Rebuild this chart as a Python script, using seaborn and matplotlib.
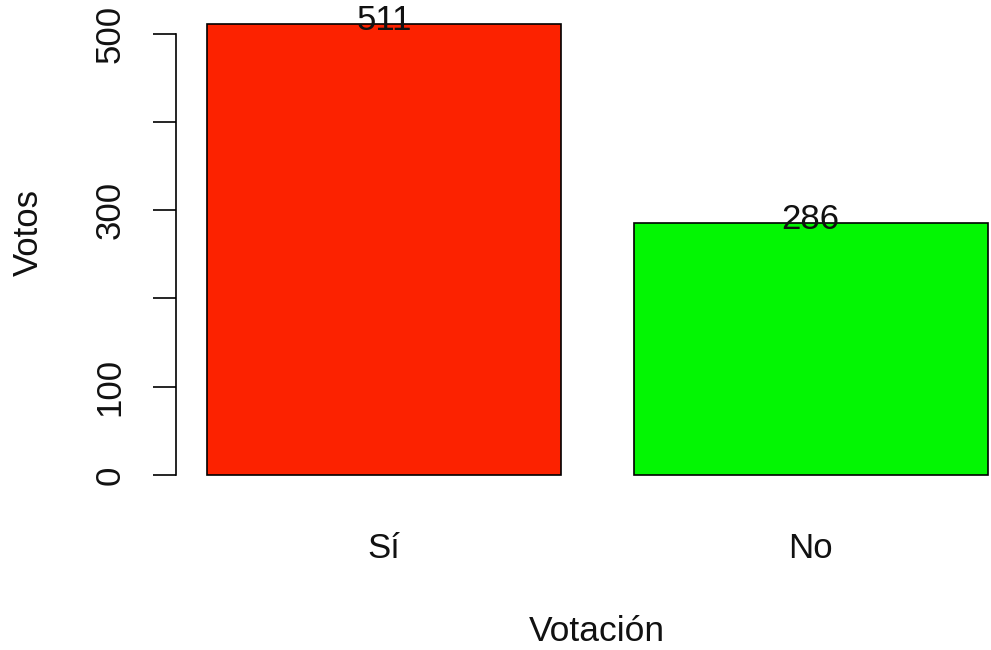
import matplotlib
matplotlib.use("Agg")
import matplotlib.pyplot as plt
import seaborn as sns
import pandas as pd

categories = ["Sí", "No"]
votes = [511, 286]
bar_colors = ["#FC2200", "#03F603"]
y_ticks = [0, 100, 200, 300, 400, 500]
y_tick_labels = ["0", "100", "", "300", "", "500"]

sns.set_theme(style="white")
plt.rcParams["font.family"] = ["Liberation Sans", "DejaVu Sans"]

df = pd.DataFrame({"Votación": categories, "Votos": votes})

fig = plt.figure(figsize=(9.91, 6.5), dpi=100)
ax = fig.add_axes([176/991, (650-493)/650, (991-176)/991, (493-6)/650])

sns.barplot(data=df, x="Votación", y="Votos", hue="Votación", palette=bar_colors,
            legend=False, width=0.83, edgecolor="black", linewidth=1.2,
            saturation=1, ax=ax)

ax.set_xlim(-0.4877, 1.423)
ax.set_ylim(-20.44, 531.44)

for sp in ["top", "right", "bottom"]:
    ax.spines[sp].set_visible(False)
ax.spines["left"].set_bounds(0, 500)
ax.spines["left"].set_color("black")
ax.spines["left"].set_linewidth(1.2)

ax.set_yticks(y_ticks)
ax.set_yticklabels(y_tick_labels, rotation=90, va="center", fontsize=25)
ax.tick_params(axis="y", length=16.5, width=1.2, color="black", pad=19,
               left=True, labelcolor="#111111")
ax.tick_params(axis="x", length=0, pad=28, labelsize=25, labelcolor="#111111")

for i, v in enumerate(votes):
    ax.text(i, v + 4, str(v), ha="center", va="center", fontsize=25, color="#111111")

ax.set_xlabel("Votación", fontsize=25.5, color="#111111")
ax.set_ylabel("Votos", fontsize=25, color="#111111")
ax.xaxis.set_label_coords(0.516, -0.2845)
ax.yaxis.set_label_coords(-0.1816, 0.534)
ax.xaxis.label.set_va("center")
ax.yaxis.label.set_va("center")

fig.savefig("out.png", dpi=100, facecolor="white")
